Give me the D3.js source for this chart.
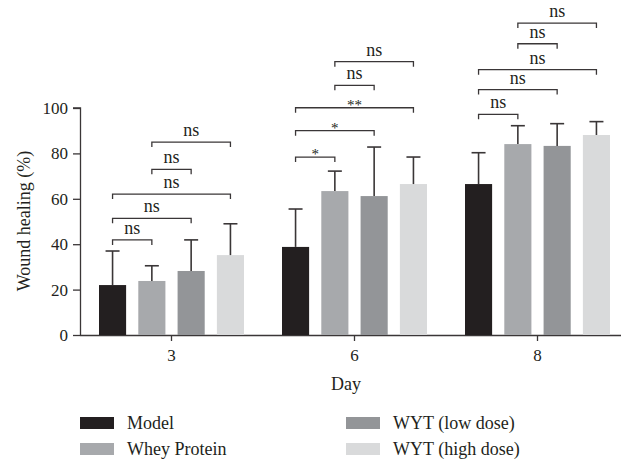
<!DOCTYPE html>
<html>
<head>
<meta charset="utf-8">
<script src="https://cdn.jsdelivr.net/npm/d3@7"></script>
<style>
  body { margin: 0; background: #fff; }
  text { font-family: "Liberation Serif", "DejaVu Serif", serif; fill: #231f20; }
</style>
</head>
<body>
<div id="chart"></div>
<script>
// ---- DATA ----
const days = ["3", "6", "8"];
const groups = ["Model", "Whey Protein", "WYT (low dose)", "WYT (high dose)"];
const colors = ["#231f20", "#a7a9ac", "#939598", "#d9dadb"];

const meanModel = [22.0, 38.8, 66.5];
const meanWhey = [23.8, 63.4, 84.1];
const meanLow = [28.2, 61.2, 83.3];
const meanHigh = [35.2, 66.5, 88.1];

const sdModel = [15.0, 16.7, 13.8];
const sdWhey = [6.7, 8.8, 8.1];
const sdLow = [13.7, 21.6, 9.8];
const sdHigh = [13.8, 11.9, 5.9];

const yTicks = [0, 20, 40, 60, 80, 100];

// significance brackets: day index, from group, to group, height (%), label
const bracketDay = [0, 0, 0, 0, 0, 1, 1, 1, 1, 1, 2, 2, 2, 2, 2];
const bracketFrom = [0, 0, 0, 1, 1, 0, 0, 0, 1, 1, 0, 0, 0, 1, 1];
const bracketTo = [1, 2, 3, 2, 3, 1, 2, 3, 2, 3, 1, 2, 3, 2, 3];
const bracketY = [41.9, 51.4, 62.1, 73, 85, 78.4, 90, 100.1, 110, 120.4, 97.2, 108.1, 116.9, 128.3, 137.4];
const bracketLabel = ["ns", "ns", "ns", "ns", "ns", "*", "*", "**", "ns", "ns", "ns", "ns", "ns", "ns", "ns"];

const means = [meanModel, meanWhey, meanLow, meanHigh];
const sds = [sdModel, sdWhey, sdLow, sdHigh];

let data = [];
days.forEach((d, i) => {
    groups.forEach((g, j) => {
        data.push({ day: d, group: g, idx: j, mean: means[j][i], sd: sds[j][i] });
    });
});

let width = 621, height = 462;

let svg = d3.select("#chart")
    .append("svg")
    .attr("width", width)
    .attr("height", height);

let x = d3.scaleBand().domain(days).range([80, 629]).padding(0);
let xInner = d3.scaleBand().domain(groups).range([19, 164]).paddingInner(0.31).paddingOuter(0);
let y = d3.scaleLinear().domain([0, 100]).range([335, 108]);

// ---- AXES ----
let yAxis = d3.axisLeft(y).tickValues(yTicks).tickSize(7).tickPadding(5);
let xAxis = d3.axisBottom(x).tickSize(6).tickPadding(8);

let yAxisGroup = svg.append("g")
    .attr("class", "y-axis")
    .attr("transform", "translate(80,0)")
    .call(yAxis);

let xAxisGroup = svg.append("g")
    .attr("class", "x-axis")
    .attr("transform", "translate(0,335)")
    .call(xAxis);

svg.selectAll(".y-axis path, .y-axis line, .x-axis path, .x-axis line")
    .attr("stroke", "#3a3637")
    .attr("stroke-width", 1.3);
svg.select(".x-axis path").attr("d", "M80,0.5H629");
svg.select(".y-axis path").attr("d", "M0.5,335V108H-7");
svg.selectAll(".y-axis text, .x-axis text")
    .style("font-family", "Liberation Serif")
    .style("font-size", "17px")
    .attr("fill", "#231f20");

// ---- BARS ----
let bars = svg.selectAll(".bar").data(data);

bars.enter()
    .append("rect")
    .attr("class", "bar")
    .attr("x", d => x(d.day) + xInner(d.group))
    .attr("y", d => y(d.mean))
    .attr("width", xInner.bandwidth())
    .attr("height", d => y(0) - y(d.mean))
    .attr("fill", d => colors[d.idx]);

// ---- ERROR BARS (upper only) ----
let errs = svg.selectAll(".err").data(data).enter().append("g").attr("class", "err");
errs.append("line")
    .attr("x1", d => x(d.day) + xInner(d.group) + xInner.bandwidth() / 2)
    .attr("x2", d => x(d.day) + xInner(d.group) + xInner.bandwidth() / 2)
    .attr("y1", d => y(d.mean))
    .attr("y2", d => y(d.mean + d.sd))
    .attr("stroke", "#3a3637")
    .attr("stroke-width", 1.6);
errs.append("line")
    .attr("x1", d => x(d.day) + xInner(d.group) + xInner.bandwidth() / 2 - 7)
    .attr("x2", d => x(d.day) + xInner(d.group) + xInner.bandwidth() / 2 + 7)
    .attr("y1", d => y(d.mean + d.sd))
    .attr("y2", d => y(d.mean + d.sd))
    .attr("stroke", "#3a3637")
    .attr("stroke-width", 1.6);

// ---- SIGNIFICANCE BRACKETS ----
function cx(dayIdx, g) {
    return x(days[dayIdx]) + xInner(groups[g]) + xInner.bandwidth() / 2;
}

let brackets = bracketDay.map((d, i) => ({
    x1: cx(d, bracketFrom[i]),
    x2: cx(d, bracketTo[i]),
    yy: y(bracketY[i]),
    label: bracketLabel[i]
}));

let br = svg.selectAll(".bracket").data(brackets).enter().append("g").attr("class", "bracket");
br.append("path")
    .attr("d", d => "M" + d.x1 + "," + (d.yy + 5) + "V" + d.yy + "H" + d.x2 + "V" + (d.yy + 5))
    .attr("fill", "none")
    .attr("stroke", "#3a3637")
    .attr("stroke-width", 1.3);
br.append("text")
    .attr("x", d => (d.x1 + d.x2) / 2)
    .attr("y", d => d.label === "ns" ? d.yy - 6 : d.yy + 2)
    .attr("text-anchor", "middle")
    .style("font-size", d => d.label === "ns" ? "18px" : "15px")
    .text(d => d.label);

// ---- TITLES ----
svg.append("text")
    .attr("transform", "translate(30,221) rotate(-90)")
    .attr("text-anchor", "middle")
    .style("font-size", "18px")
    .text("Wound healing (%)");

svg.append("text")
    .attr("x", 346)
    .attr("y", 390)
    .attr("text-anchor", "middle")
    .style("font-size", "18px")
    .text("Day");

// ---- LEGEND ----
let legendX = [80, 346, 80, 346];
let legendOrder = [0, 2, 1, 3];
let legendRow = [0, 0, 1, 1];
let legend = svg.selectAll(".legend").data(legendOrder).enter().append("g")
    .attr("class", "legend")
    .attr("transform", (d, i) => "translate(" + legendX[i] + "," + (417 + legendRow[i] * 26) + ")");
legend.append("rect")
    .attr("width", 34)
    .attr("height", 12)
    .attr("fill", d => colors[d]);
legend.append("text")
    .attr("x", 47)
    .attr("y", 12)
    .style("font-size", "18px")
    .text(d => groups[d]);
</script>
</body>
</html>
